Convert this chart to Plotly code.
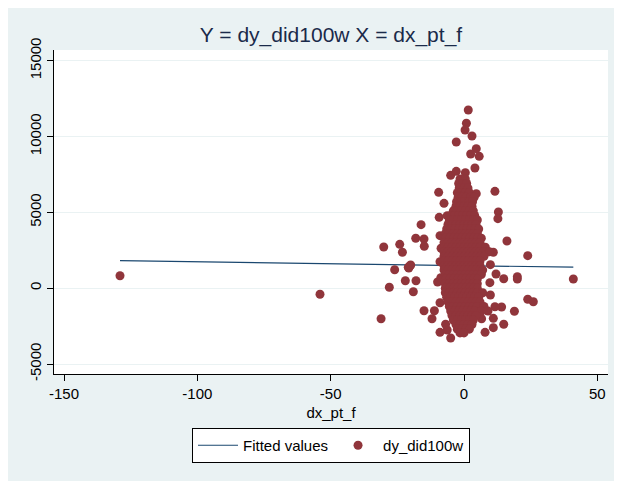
import plotly.graph_objects as go

# ---------------- data ----------------
fit_x = [-129, 41]
fit_y = [1813, 1385]

# scattered outliers
out_x = [-129, -54, -31.1, -30.1, -24.1, -23.1, -18.1, -26, -28, -22, -19, -18, -20.9, -20,
         41, 1.6, 0.9, 0.4, 3, -2.9, 4.6, 2.5, 5.7, 4.1, -5, -2.9, 0.5, -9.5, 11.6, 4.6,
         -7.5, 12.9, 12.7, -16.1, -9.3, -6.3, -9, -15, -14.9, 16.1, 23.9, 11, -20.7, -20.2,
         20, 20, 14.9, 12, 9.7, 9.9, 23.9, 26, 18.9, 14.9, 11, 7.9, 11, 14.1, 11.6, 9.9,
         6.6, -9, -5, -6.3, -6.9, -12, -11.1, -15, -9, -9.9, -8.7, -9, -8.6, -0.4, -2.7]
out_y = [824, -402, -2011, 2716, 2894, 2367, 3290, 1220, 59, 494, -231, 494, 1378, 1530,
         607, 11749, 10872, 10431, 10035, 9640, 9200, 8848, 8694, 7925, 7443, 7707, 7619, 6322, 6388, 6234,
         5597, 5024, 4583, 4187, 4671, 4781, 3462, 3244, 2763, 3112, 2144, 2367, 1332, 1484,
         758, 600, 626, 936, 363, 1550, -732, -890, -1523, -2380, -2604, -2908, -1985, -1240, -1220, -448,
         -2011, -2908, -3283, -2756, -2380, -2011, -1484, -1484, -956, 409, 692, 1747, 2631, -2690, -2097]

# dense central cluster
core_x = [-1.5, 0.5,
          -2, -0.5, 1,
          -1.8, 0, 1.5,
          -2.5, -1, 0.5, 2,
          -2.2, -0.8, 0.8, 2.5, 3.8,
          -2.8, -1.2, 0.2, 1.8, 3.2,
          -3, -1.5, 0, 1.5, 3,
          -4, -2.5, -1, 0.5, 2, 3.5,
          -5, -3.5, -2, -0.5, 1, 2.5, 4,
          -5.5, -4, -2.5, -1, 0.5, 2, 3.5, 5,
          -6, -4.5, -3, -1.5, 0, 1.5, 3, 4.5,
          -6.5, -5, -3.5, -2, -0.5, 1, 2.5, 4, 5.5,
          -7, -5.5, -4, -2.5, -1, 0.5, 2, 3.5, 5,
          -7, -5.5, -4, -2.5, -1, 0.5, 2, 3.5, 5, 6.5,
          -7.5, -6, -4.5, -3, -1.5, 0, 1.5, 3, 4.5, 6,
          -7.5, -6, -4.5, -3, -1.5, 0, 1.5, 3, 4.5, 6, 8,
          -7.5, -6, -4.5, -3, -1.5, 0, 1.5, 3, 4.5, 6, 7.5, 9.5,
          -7.5, -6, -4.5, -3, -1.5, 0, 1.5, 3, 4.5, 6, 7.5,
          -7.5, -6, -4.5, -3, -1.5, 0, 1.5, 3, 4.5, 6,
          -7.5, -6, -4.5, -3, -1.5, 0, 1.5, 3, 4.5, 6,
          -7.5, -6, -4.5, -3, -1.5, 0, 1.5, 3, 4.5, 6, 7,
          -7, -5.5, -4, -2.5, -1, 0.5, 2, 3.5, 5, 6.5,
          -7, -5.5, -4, -2.5, -1, 0.5, 2, 3.5, 5,
          -7, -5.5, -4, -2.5, -1, 0.5, 2, 3.5, 5,
          -7, -5.5, -4, -2.5, -1, 0.5, 2, 3.5, 5,
          -7, -5.5, -4, -2.5, -1, 0.5, 2, 3.5, 5, 7,
          -6.5, -5, -3.5, -2, -0.5, 1, 2.5, 4, 5.5,
          -6, -4.5, -3, -1.5, 0, 1.5, 3, 4.5, 6,
          -5.5, -4, -2.5, -1, 0.5, 2, 3.5, 5, 7.5,
          -5, -3.5, -2, -0.5, 1, 2.5, 4, 6.5, 9,
          -4.5, -3, -1.5, 0, 1.5, 3, 4.5,
          -4, -2.5, -1, 0.5, 2, 3.5,
          -3, -1.5, 0, 1.5, 3,
          -2.5, -1, 0.5, 2,
          -1.5, 0]
core_y = [7200, 7200,
          6900, 6900, 6900,
          6600, 6600, 6600,
          6300, 6300, 6300, 6300,
          6000, 6000, 6000, 6000, 6000,
          5700, 5700, 5700, 5700, 5700,
          5400, 5400, 5400, 5400, 5400,
          5100, 5100, 5100, 5100, 5100, 5100,
          4800, 4800, 4800, 4800, 4800, 4800, 4800,
          4500, 4500, 4500, 4500, 4500, 4500, 4500, 4500,
          4200, 4200, 4200, 4200, 4200, 4200, 4200, 4200,
          3900, 3900, 3900, 3900, 3900, 3900, 3900, 3900, 3900,
          3600, 3600, 3600, 3600, 3600, 3600, 3600, 3600, 3600,
          3300, 3300, 3300, 3300, 3300, 3300, 3300, 3300, 3300, 3300,
          3000, 3000, 3000, 3000, 3000, 3000, 3000, 3000, 3000, 3000,
          2700, 2700, 2700, 2700, 2700, 2700, 2700, 2700, 2700, 2700, 2700,
          2400, 2400, 2400, 2400, 2400, 2400, 2400, 2400, 2400, 2400, 2400, 2400,
          2100, 2100, 2100, 2100, 2100, 2100, 2100, 2100, 2100, 2100, 2100,
          1800, 1800, 1800, 1800, 1800, 1800, 1800, 1800, 1800, 1800,
          1500, 1500, 1500, 1500, 1500, 1500, 1500, 1500, 1500, 1500,
          1200, 1200, 1200, 1200, 1200, 1200, 1200, 1200, 1200, 1200, 1200,
          900, 900, 900, 900, 900, 900, 900, 900, 900, 900,
          600, 600, 600, 600, 600, 600, 600, 600, 600,
          300, 300, 300, 300, 300, 300, 300, 300, 300,
          0, 0, 0, 0, 0, 0, 0, 0, 0,
          -300, -300, -300, -300, -300, -300, -300, -300, -300, -300,
          -600, -600, -600, -600, -600, -600, -600, -600, -600,
          -900, -900, -900, -900, -900, -900, -900, -900, -900,
          -1200, -1200, -1200, -1200, -1200, -1200, -1200, -1200, -1200,
          -1500, -1500, -1500, -1500, -1500, -1500, -1500, -1500, -1500,
          -1800, -1800, -1800, -1800, -1800, -1800, -1800,
          -2100, -2100, -2100, -2100, -2100, -2100,
          -2400, -2400, -2400, -2400, -2400,
          -2700, -2700, -2700, -2700,
          -2950, -2950]

dx_pt_f = out_x + core_x
dy_did100w = out_y + core_y

x_ticks = [-150, -100, -50, 0, 50]
x_labels = ["-150", "-100", "-50", "0", "50"]
y_ticks = [-5000, 0, 5000, 10000, 15000]
y_labels = ["-5000", "0", "5000", "10000", "15000"]

# ---------------- figure ----------------
BG = "#EAF2F3"
FONT = "Liberation Sans, Arial, sans-serif"

# page has an 8px body margin, so the figure is 614x473 placed at (8, 8)
W, H = 614, 473
L, R, T, B = 46, 14, 42, 107
pw, ph = W - L - R, H - T - B

fig = go.Figure()
fig.add_trace(go.Scatter(x=fit_x, y=fit_y, mode="lines", name="Fitted values",
                         line=dict(color="#1A476F", width=1.2)))
fig.add_trace(go.Scatter(x=dx_pt_f, y=dy_did100w, mode="markers", name="dy_did100w",
                         marker=dict(color="#90353B", size=9, line=dict(width=0))))

fig.update_layout(
    width=W, height=H,
    margin=dict(l=L, r=R, t=T, b=B, autoexpand=False),
    paper_bgcolor=BG, plot_bgcolor="white",
    font=dict(family=FONT, size=15, color="black"),
    title=dict(text="Y = dy_did100w X = dx_pt_f", x=0.5, xref="paper",
               y=1 - 27 / H, yref="container", yanchor="middle", xanchor="center",
               font=dict(size=21, color="#1a2a4a", family=FONT)),
    showlegend=True,
    legend=dict(orientation="h", x=0.5, xanchor="center", y=-(420 - (T + ph)) / ph,
                yanchor="top", bgcolor="white", bordercolor="black", borderwidth=1,
                font=dict(size=15, family=FONT), itemwidth=40),
)

fig.update_xaxes(range=[-153.75, 54.0], tickvals=x_ticks, ticktext=x_labels,
                 ticks="outside", ticklen=6, automargin=False,
                 tickcolor="black", showline=True, linecolor="black", linewidth=1,
                 showgrid=False, zeroline=False,
                 title=dict(text="dx_pt_f", standoff=6, font=dict(size=15)),
                 tickfont=dict(size=15))
fig.update_yaxes(range=[-5657, 15705], tickvals=y_ticks, ticktext=y_labels,
                 ticks="outside", ticklen=6, automargin=False,
                 tickcolor="black", showline=True, linecolor="black", linewidth=1,
                 showgrid=True, gridcolor=BG, gridwidth=1, zeroline=False,
                 tickangle=-90, tickfont=dict(size=15))

fig.write_html("out.html")
